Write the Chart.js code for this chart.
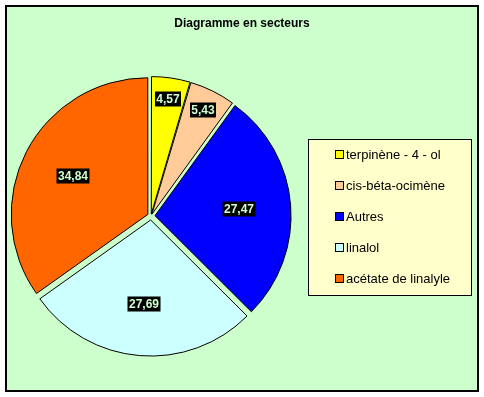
<!DOCTYPE html>
<html>
<head>
<meta charset="utf-8">
<script src="https://cdn.jsdelivr.net/npm/chart.js@4.4.1/dist/chart.umd.min.js"></script>
<style>
  html, body { margin: 0; padding: 0; background: #fff; }
  canvas { display: block; }
</style>
</head>
<body>
<canvas id="graficoSecteurs" width="484" height="397"></canvas>
<script>
const titre = 'Diagramme en secteurs';
const categories = ['terpinène - 4 - ol', 'cis-béta-ocimène', 'Autres', 'linalol', 'acétate de linalyle'];
const valeurs = [4.57, 5.43, 27.47, 27.69, 34.84];
const couleurs = ['#FFFF00', '#FFCC99', '#0000FF', '#CCFFFF', '#FF6600'];

// fond vert + cadre noir, titre, légende
const cadrePlugin = {
  id: 'cadre',
  beforeDraw(chart) {
    const ctx = chart.ctx;
    ctx.save();
    ctx.fillStyle = '#FFFFFF';
    ctx.fillRect(0, 0, chart.width, chart.height);
    ctx.fillStyle = '#CCFFCC';
    ctx.fillRect(5, 5, 474, 387);
    ctx.strokeStyle = '#000';
    ctx.lineWidth = 2;
    ctx.strokeRect(6, 6, 472, 385);
    ctx.restore();
  },
  afterDraw(chart) {
    const ctx = chart.ctx;
    ctx.save();
    ctx.fillStyle = '#000';
    ctx.font = 'bold 12px Arial, "Liberation Sans", sans-serif';
    ctx.textAlign = 'center';
    ctx.textBaseline = 'middle';
    ctx.fillText(titre, 242, 24);

    // légende
    ctx.fillStyle = '#FFFFCC';
    ctx.fillRect(308.5, 139.5, 163, 156);
    ctx.strokeStyle = '#000';
    ctx.lineWidth = 1;
    ctx.strokeRect(308.5, 139.5, 163, 156);
    ctx.font = '13px Arial, "Liberation Sans", sans-serif';
    ctx.textAlign = 'left';
    categories.forEach((nom, i) => {
      const y = 154.5 + i * 31;
      ctx.fillStyle = couleurs[i];
      ctx.fillRect(335.5, y - 4, 8, 8);
      ctx.strokeRect(335.5, y - 4, 8, 8);
      ctx.fillStyle = '#000';
      ctx.fillText(nom, 346, y + 1);
    });
    ctx.restore();
  }
};

// étiquettes de valeurs (fond noir, texte vert clair)
const etiquettesPlugin = {
  id: 'etiquettes',
  afterDatasetsDraw(chart) {
    const ctx = chart.ctx;
    const meta = chart.getDatasetMeta(0);
    ctx.save();
    ctx.font = 'bold 12px Arial, "Liberation Sans", sans-serif';
    ctx.textAlign = 'center';
    ctx.textBaseline = 'middle';
    meta.data.forEach((arc, i) => {
      const { x, y, startAngle, endAngle, outerRadius } = arc.getProps(['x', 'y', 'startAngle', 'endAngle', 'outerRadius'], true);
      const milieu = (startAngle + endAngle) / 2;
      const frac = (endAngle - startAngle) < 0.5 ? 0.84 : 0.62;
      const d = outerRadius * frac + 4;
      const px = Math.round(x + Math.cos(milieu) * d);
      const py = Math.round(y + Math.sin(milieu) * d);
      const texte = valeurs[i].toFixed(2).replace('.', ',');
      const w = Math.ceil(ctx.measureText(texte).width) + 2;
      ctx.fillStyle = '#000';
      ctx.fillRect(px - w / 2, py - 7.5, w, 15);
      ctx.fillStyle = '#CCFFCC';
      ctx.fillText(texte, px, py + 1);
    });
    ctx.restore();
  }
};

const ctxSecteurs = document.getElementById('graficoSecteurs').getContext('2d');

new Chart(ctxSecteurs, {
  type: 'pie',
  data: {
    labels: categories,
    datasets: [{
      data: valeurs,
      backgroundColor: couleurs,
      borderColor: '#000',
      borderWidth: 1,
      offset: [8, 8, 16, 16, 14]
    }]
  },
  options: {
    responsive: false,
    animation: false,
    devicePixelRatio: 1,
    layout: { padding: { left: 6.5, top: 71.5, right: 188.5, bottom: 36.5 } },
    plugins: {
      legend: { display: false },
      title: { display: false },
      tooltip: { enabled: false }
    }
  },
  plugins: [cadrePlugin, etiquettesPlugin]
});
</script>
</body>
</html>
